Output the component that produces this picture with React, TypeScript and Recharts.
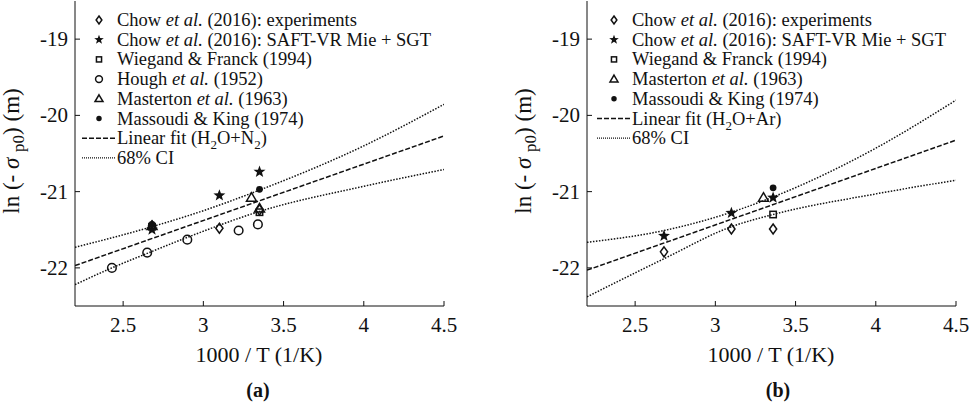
import React from "react";
import {
  ComposedChart,
  Line,
  Scatter,
  XAxis,
  YAxis,
} from "recharts";

const FONT = "'Liberation Serif', 'DejaVu Serif', serif";
const INK = "#111";

type Pt = { x: number; y: number };

// axis ticks
const xTicks = [2.5, 3, 3.5, 4, 4.5];
const yTicks = [-22, -21, -20, -19];

// panel (a): H2O + N2
const aChowExp: Pt[] = [
  { x: 2.68, y: -21.45 },
  { x: 3.1, y: -21.48 },
  { x: 3.35, y: -21.24 },
];
const aChowSaft: Pt[] = [
  { x: 2.68, y: -21.5 },
  { x: 3.1, y: -21.05 },
  { x: 3.35, y: -20.74 },
];
const aWiegand: Pt[] = [
  { x: 2.68, y: -21.46 },
  { x: 3.35, y: -21.27 },
];
const aHough: Pt[] = [
  { x: 2.43, y: -22.0 },
  { x: 2.65, y: -21.8 },
  { x: 2.9, y: -21.63 },
  { x: 3.22, y: -21.51 },
  { x: 3.34, y: -21.43 },
];
const aMasterton: Pt[] = [
  { x: 2.68, y: -21.45 },
  { x: 3.3, y: -21.08 },
  { x: 3.35, y: -21.22 },
];
const aMassoudi: Pt[] = [
  { x: 2.68, y: -21.43 },
  { x: 3.35, y: -20.97 },
];
const aFit: Pt[] = [
  { x: 2.2, y: -21.97 },
  { x: 4.5, y: -20.27 },
];
const aUpper: Pt[] = [
  { x: 2.2, y: -21.73 },
  { x: 2.68, y: -21.46 },
  { x: 3.0, y: -21.25 },
  { x: 3.35, y: -20.98 },
  { x: 4.0, y: -20.4 },
  { x: 4.5, y: -19.855 },
];
const aLower: Pt[] = [
  { x: 2.2, y: -22.22 },
  { x: 2.43, y: -22.0 },
  { x: 2.65, y: -21.81 },
  { x: 2.9, y: -21.6 },
  { x: 3.35, y: -21.26 },
  { x: 4.0, y: -20.93 },
  { x: 4.5, y: -20.71 },
];

// panel (b): H2O + Ar
const bChowExp: Pt[] = [
  { x: 2.68, y: -21.79 },
  { x: 3.1, y: -21.49 },
  { x: 3.36, y: -21.49 },
];
const bChowSaft: Pt[] = [
  { x: 2.68, y: -21.58 },
  { x: 3.1, y: -21.28 },
  { x: 3.36, y: -21.08 },
];
const bWiegand: Pt[] = [{ x: 3.36, y: -21.3 }];
const bMasterton: Pt[] = [{ x: 3.3, y: -21.08 }];
const bMassoudi: Pt[] = [{ x: 3.36, y: -20.95 }];
const bFit: Pt[] = [
  { x: 2.2, y: -22.03 },
  { x: 4.5, y: -20.325 },
];
const bUpper: Pt[] = [
  { x: 2.2, y: -21.665 },
  { x: 2.68, y: -21.51 },
  { x: 3.1, y: -21.27 },
  { x: 3.36, y: -21.07 },
  { x: 4.0, y: -20.43 },
  { x: 4.5, y: -19.8 },
];
const bLower: Pt[] = [
  { x: 2.2, y: -22.38 },
  { x: 2.68, y: -21.88 },
  { x: 3.1, y: -21.46 },
  { x: 3.36, y: -21.3 },
  { x: 4.0, y: -21.03 },
  { x: 4.5, y: -20.85 },
];

type Kind = "diamond" | "star" | "square" | "circle" | "triangle" | "dot";

function Marker({ kind, cx, cy, k = 1 }: { kind: Kind; cx: number; cy: number; k?: number }) {
  const s = { stroke: INK, strokeWidth: 1.5, fill: "none" };
  switch (kind) {
    case "diamond":
      return (
        <path
          d={`M${cx},${cy - 5 * k} L${cx + 3.6 * k},${cy} L${cx},${cy + 5 * k} L${cx - 3.6 * k},${cy} Z`}
          {...s}
        />
      );
    case "star": {
      const pts: string[] = [];
      for (let i = 0; i < 10; i++) {
        const r = (i % 2 === 0 ? 6.3 : 2.6) * k;
        const a = -Math.PI / 2 + (i * Math.PI) / 5;
        pts.push(`${cx + r * Math.cos(a)},${cy + r * Math.sin(a)}`);
      }
      return <polygon points={pts.join(" ")} fill={INK} />;
    }
    case "square":
      return <rect x={cx - 3.2 * k} y={cy - 3.2 * k} width={6.4 * k} height={6.4 * k} {...s} />;
    case "circle":
      return <circle cx={cx} cy={cy} r={4.3 * k} {...s} />;
    case "triangle":
      return (
        <path
          d={`M${cx},${cy - 5 * k} L${cx + 5 * k},${cy + 3.5 * k} L${cx - 5 * k},${cy + 3.5 * k} Z`}
          {...s}
        />
      );
    default:
      return <circle cx={cx} cy={cy} r={3.4 * k} fill={INK} />;
  }
}

interface Series {
  kind: Kind;
  data: Pt[];
  label: React.ReactNode;
}

const etal = <i>et al.</i>;

const seriesA: Series[] = [
  { kind: "diamond", data: aChowExp, label: <>Chow {etal} (2016): experiments</> },
  { kind: "star", data: aChowSaft, label: <>Chow {etal} (2016): SAFT-VR Mie + SGT</> },
  { kind: "square", data: aWiegand, label: <>Wiegand &amp; Franck (1994)</> },
  { kind: "circle", data: aHough, label: <>Hough {etal} (1952)</> },
  { kind: "triangle", data: aMasterton, label: <>Masterton {etal} (1963)</> },
  { kind: "dot", data: aMassoudi, label: <>Massoudi &amp; King (1974)</> },
];

const seriesB: Series[] = [
  { kind: "diamond", data: bChowExp, label: <>Chow {etal} (2016): experiments</> },
  { kind: "star", data: bChowSaft, label: <>Chow {etal} (2016): SAFT-VR Mie + SGT</> },
  { kind: "square", data: bWiegand, label: <>Wiegand &amp; Franck (1994)</> },
  { kind: "triangle", data: bMasterton, label: <>Masterton {etal} (1963)</> },
  { kind: "dot", data: bMassoudi, label: <>Massoudi &amp; King (1974)</> },
];

const FIT_DASH = "5 2";
const CI_DASH = "1.5 1.5";

function BottomTick(p: any) {
  return (
    <g>
      <line x1={p.x} x2={p.x} y1={p.y} y2={p.y - 5} stroke={INK} />
      <text x={p.x} y={p.y + 26} textAnchor="middle" fontFamily={FONT} fontSize={21} fill={INK}>
        {p.payload.value}
      </text>
    </g>
  );
}
function TopTick(p: any) {
  return <line x1={p.x} x2={p.x} y1={p.y} y2={p.y + 5} stroke={INK} />;
}
function LeftTick(p: any) {
  return (
    <g>
      <line x1={p.x} x2={p.x + 5} y1={p.y} y2={p.y} stroke={INK} />
      <text x={p.x - 7} y={p.y + 7} textAnchor="end" fontFamily={FONT} fontSize={21} fill={INK}>
        {p.payload.value}
      </text>
    </g>
  );
}
function RightTick(p: any) {
  return <line x1={p.x} x2={p.x - 5} y1={p.y} y2={p.y} stroke={INK} />;
}

function Panel({
  left,
  series,
  fit,
  upper,
  lower,
  fitLabel,
  tag,
  tagX,
  markerX,
}: {
  left: number;
  series: Series[];
  fit: Pt[];
  upper: Pt[];
  lower: Pt[];
  fitLabel: React.ReactNode;
  tag: string;
  tagX: number;
  markerX: number;
}) {
  const rowY = (i: number) => 20 + i * 19.7;
  const textLeft = markerX + 18;
  return (
    <div style={{ position: "absolute", left, top: 0, width: 480, height: 406 }}>
      <ComposedChart
        width={460}
        height={340}
        margin={{ top: 1, right: 16, bottom: 0, left: 0 }}
      >
        <XAxis
          dataKey="x"
          type="number"
          domain={[2.2, 4.5]}
          ticks={xTicks}
          allowDataOverflow
          height={34}
          tickSize={0}
          tickMargin={0}
          tickLine={false}
          axisLine={{ stroke: INK }}
          tick={BottomTick}
        />
        <XAxis
          xAxisId="top"
          orientation="top"
          dataKey="x"
          type="number"
          domain={[2.2, 4.5]}
          ticks={xTicks}
          allowDataOverflow
          height={0}
          tickSize={0}
          tickMargin={0}
          tickLine={false}
          axisLine={{ stroke: INK }}
          tick={TopTick}
        />
        <YAxis
          dataKey="y"
          type="number"
          domain={[-22.5, -18.5]}
          ticks={yTicks}
          allowDataOverflow
          width={75}
          tickSize={0}
          tickMargin={0}
          tickLine={false}
          axisLine={{ stroke: INK }}
          tick={LeftTick}
        />
        <YAxis
          yAxisId="right"
          orientation="right"
          dataKey="y"
          type="number"
          domain={[-22.5, -18.5]}
          ticks={yTicks}
          allowDataOverflow
          width={0}
          tickSize={0}
          tickMargin={0}
          tickLine={false}
          axisLine={{ stroke: INK }}
          tick={RightTick}
        />
        <Line
          data={upper}
          dataKey="y"
          type="monotone"
          stroke={INK}
          strokeWidth={1.5}
          strokeDasharray={CI_DASH}
          dot={false}
          isAnimationActive={false}
        />
        <Line
          data={lower}
          dataKey="y"
          type="monotone"
          stroke={INK}
          strokeWidth={1.5}
          strokeDasharray={CI_DASH}
          dot={false}
          isAnimationActive={false}
        />
        <Line
          data={fit}
          dataKey="y"
          type="linear"
          stroke={INK}
          strokeWidth={1.5}
          strokeDasharray={FIT_DASH}
          dot={false}
          isAnimationActive={false}
        />
        {series.map((s) => (
          <Scatter
            key={s.kind}
            data={s.data}
            isAnimationActive={false}
            shape={(p: any) => <Marker kind={s.kind} cx={p.cx} cy={p.cy} />}
          />
        ))}
      </ComposedChart>

      {/* legend inside the axes */}
      <svg
        style={{ position: "absolute", left: 0, top: 0, pointerEvents: "none" }}
        width={480}
        height={200}
      >
        {series.map((s, i) => (
          <Marker key={s.kind} kind={s.kind} cx={markerX} cy={rowY(i)} k={0.8} />
        ))}
        <line
          x1={markerX - 17}
          x2={markerX + 17}
          y1={rowY(series.length)}
          y2={rowY(series.length)}
          stroke={INK}
          strokeWidth={1.5}
          strokeDasharray={FIT_DASH}
        />
        <line
          x1={markerX - 17}
          x2={markerX + 17}
          y1={rowY(series.length + 1)}
          y2={rowY(series.length + 1)}
          stroke={INK}
          strokeWidth={1.2}
          strokeDasharray="1 1"
        />
      </svg>
      {[...series.map((s) => s.label), fitLabel, <>68% CI</>].map((lab, i) => (
        <div
          key={i}
          style={{
            position: "absolute",
            left: textLeft,
            top: rowY(i) - 11,
            height: 22,
            lineHeight: "22px",
            fontFamily: FONT,
            fontSize: 18.5,
            color: INK,
            whiteSpace: "nowrap",
          }}
        >
          {lab}
        </div>
      ))}

      <div
        style={{
          position: "absolute",
          left: 14,
          top: 151,
          transform: "translate(-50%, -50%) rotate(-90deg)",
          fontFamily: FONT,
          fontSize: 23,
          color: INK,
          whiteSpace: "nowrap",
        }}
      >
        ln (- <i>σ</i> <sub style={{ fontSize: 17 }}>p0</sub>) (m)
      </div>
      <div
        style={{
          position: "absolute",
          left: 259,
          top: 355,
          transform: "translate(-50%, -50%)",
          fontFamily: FONT,
          fontSize: 22,
          color: INK,
          whiteSpace: "nowrap",
        }}
      >
        1000 / T (1/K)
      </div>
      <div
        style={{
          position: "absolute",
          left: tagX,
          top: 390,
          transform: "translate(-50%, -50%)",
          fontFamily: FONT,
          fontSize: 20,
          fontWeight: "bold",
          color: INK,
        }}
      >
        {tag}
      </div>
    </div>
  );
}

export default function App() {
  return (
    <div
      style={{
        position: "absolute",
        left: 0,
        top: 0,
        width: 976,
        height: 406,
        background: "#fff",
        overflow: "hidden",
      }}
    >
      <Panel
        left={0}
        series={seriesA}
        fit={aFit}
        upper={aUpper}
        lower={aLower}
        fitLabel={
          <>
            Linear fit (H<sub style={{ fontSize: 13 }}>2</sub>O+N<sub style={{ fontSize: 13 }}>2</sub>)
          </>
        }
        tag="(a)"
        tagX={258}
        markerX={99}
      />
      <Panel
        left={512}
        series={seriesB}
        fit={bFit}
        upper={bUpper}
        lower={bLower}
        fitLabel={
          <>
            Linear fit (H<sub style={{ fontSize: 13 }}>2</sub>O+Ar)
          </>
        }
        tag="(b)"
        tagX={266}
        markerX={102}
      />
    </div>
  );
}
